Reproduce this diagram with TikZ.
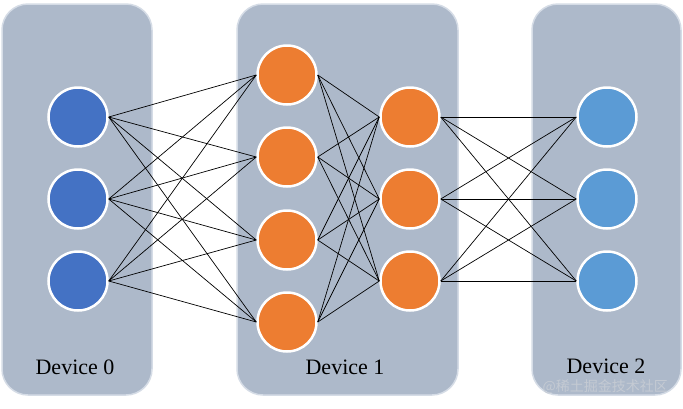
\documentclass[tikz,border=0pt]{standalone}
\usepackage{fontspec}
\setmainfont{Liberation Serif}
\newfontfamily\cjk{Noto Sans CJK SC}
\definecolor{panel}{HTML}{ADB9CA}
\definecolor{panelb}{HTML}{D5DCE6}
\definecolor{dblue}{HTML}{4472C4}
\definecolor{orng}{HTML}{ED7D31}
\definecolor{lblue}{HTML}{5B9BD5}
\definecolor{wmgray}{HTML}{C4CAD3}
\begin{document}
\begin{tikzpicture}[x=1pt,y=-1pt,
  panelbox/.style={fill=panel,draw=panelb,line width=1.5pt,rounded corners=26pt},
  neuron/.style={circle,draw=white,line width=2.5pt,minimum size=59pt,inner sep=0pt},
  link/.style={draw=black,line width=0.7pt},
  lbl/.style={font=\fontsize{22}{24}\selectfont,inner sep=1pt}]
\useasboundingbox (0,0) rectangle (683,408);
\fill[white] (0,0) rectangle (683,408);
\draw[panelbox] (2,4) rectangle (152,395);
\draw[panelbox] (237,4) rectangle (458,395);
\draw[panelbox] (532,4) rectangle (681,395);
\foreach \i/\y in {1/117,2/199,3/281} {
  \node[neuron,fill=dblue] (a\i) at (78,\y) {};
  \node[neuron,fill=orng] (c\i) at (410,\y) {};
  \node[neuron,fill=lblue] (d\i) at (607,\y) {};
}
\foreach \i/\y in {1/75,2/157,3/240,4/322} {
  \node[neuron,fill=orng] (b\i) at (287,\y) {};
}
\foreach \i in {1,2,3} \foreach \j in {1,2,3,4} \draw[link] (a\i.east) -- (b\j.west);
\foreach \i in {1,2,3,4} \foreach \j in {1,2,3} \draw[link] (b\i.east) -- (c\j.west);
\foreach \i in {1,2,3} \foreach \j in {1,2,3} \draw[link] (c\i.east) -- (d\j.west);
\node[lbl] (l0) at (75,367) {Device 0};
\node[lbl] (l1) at (345,367) {Device 1};
\node[lbl] (l2) at (606,366) {Device 2};
\node[text=wmgray,font=\cjk\fontsize{14}{15}\selectfont,anchor=east,inner sep=0pt] (wm) at (668,387) {@稀土掘金技术社区};
\end{tikzpicture}
\end{document}
